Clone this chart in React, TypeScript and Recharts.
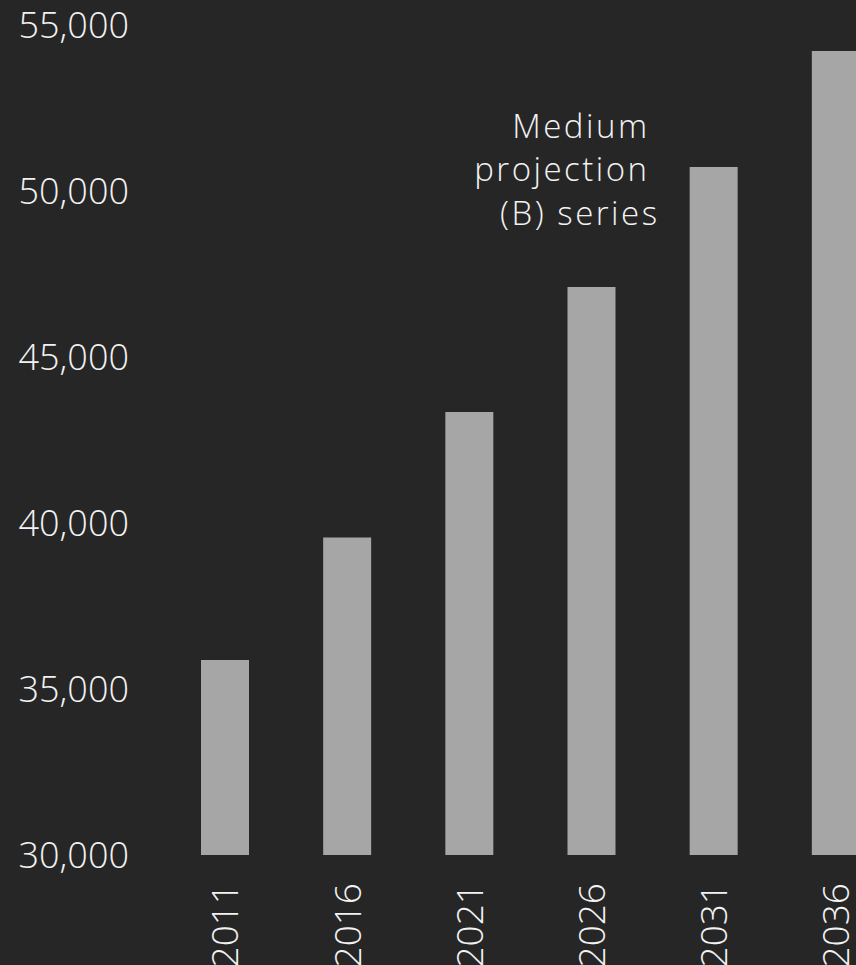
import React from "react";
import { BarChart, Bar, XAxis, YAxis, ReferenceDot } from "recharts";

const years = ["2011", "2016", "2021", "2026", "2031", "2036"];
const population = [35870, 39560, 43340, 47110, 50720, 54220];
const yTicks = [30000, 35000, 40000, 45000, 50000, 55000];
const noteLines = ["Medium", "projection", "(B) series"];

const data = years.map((y, i) => ({ year: y, value: population[i] }));

const FONT = "'Open Sans', sans-serif";
const BG = "#262626";
const TEXT = "#f2f2f2";

const fmt = (v: number) => v.toLocaleString("en-US");

const YTick = (props: any) => {
  const { x, y, payload } = props;
  return (
    <text x={x} y={y} dy="0.36em" textAnchor="end" fill={TEXT} fontFamily={FONT} fontWeight={300} fontSize={36}>
      {fmt(payload.value)}
    </text>
  );
};

const XTick = (props: any) => {
  const { x, y, payload } = props;
  return (
    <text
      x={x}
      y={y}
      dy="0.36em"
      textAnchor="end"
      transform={`rotate(-90, ${x}, ${y})`}
      fill={TEXT}
      fontFamily={FONT}
      fontWeight={300}
      fontSize={37}
    >
      {payload.value}
    </text>
  );
};

const NoteLabel = (props: any) => {
  const { viewBox } = props;
  const cx = viewBox.x;
  const cy = viewBox.y;
  const offs = [58, 58, 68];
  return (
    <text fill={TEXT} fontFamily={FONT} fontWeight={300} fontSize={33} letterSpacing={2.5} textAnchor="end">
      {noteLines.map((l, i) => (
        <tspan key={i} x={cx + offs[i]} y={cy + i * 43.5}>
          {l}
        </tspan>
      ))}
    </text>
  );
};

export default function App() {
  return (
    <div
      style={{
        position: "fixed",
        left: 0,
        top: 0,
        width: 856,
        height: 965,
        overflow: "hidden",
        background: BG,
      }}
    >
      <BarChart
        width={900}
        height={965}
        data={data}
        margin={{ top: 25, right: 3, left: 0, bottom: 0 }}
        barCategoryGap={37}
      >
        <YAxis
          domain={[30000, 55000]}
          ticks={yTicks}
          width={164}
          axisLine={false}
          tickLine={false}
          tickSize={0}
          tickMargin={35}
          tick={<YTick />}
          interval={0}
          allowDataOverflow
        />
        <XAxis
          dataKey="year"
          height={110}
          axisLine={false}
          tickLine={false}
          tickSize={0}
          tickMargin={28}
          tick={<XTick />}
          interval={0}
        />
        <Bar dataKey="value" fill="#a6a6a6" isAnimationActive={false} />
        <ReferenceDot
          x="2026"
          y={51600}
          r={0}
          fill="none"
          stroke="none"
          ifOverflow="visible"
          label={<NoteLabel />}
        />
      </BarChart>
    </div>
  );
}
